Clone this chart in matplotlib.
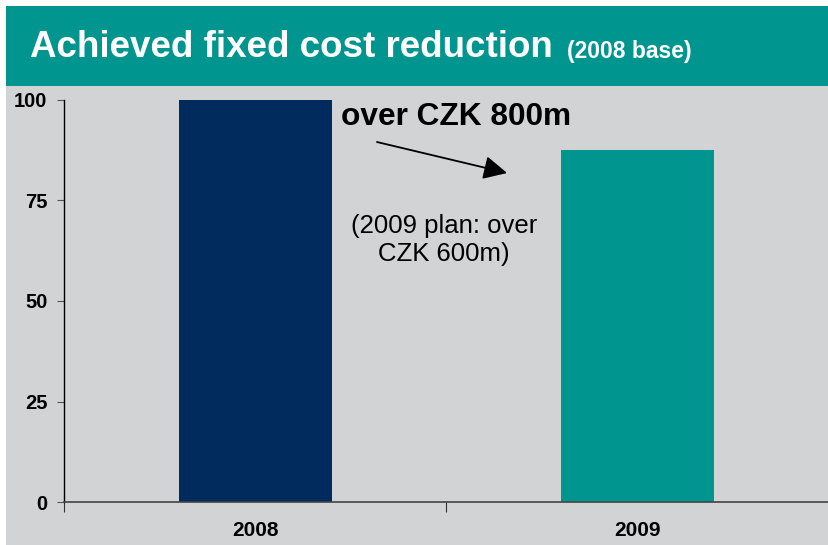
import matplotlib
matplotlib.use("Agg")
import matplotlib.pyplot as plt
from matplotlib.patches import Rectangle

categories = ["2008", "2009"]
values = [100, 87.5]
bar_colors = ["#002B5C", "#00968F"]
yticks = [0, 25, 50, 75, 100]

W, H = 829, 545
fig = plt.figure(figsize=(W / 100, H / 100), dpi=100, facecolor="white")
plt.rcParams["font.family"] = ["Liberation Sans", "DejaVu Sans"]

# background panels
fig.patches.append(Rectangle((6 / W, 0), 1, 1 - 6 / H, transform=fig.transFigure,
                             facecolor="#D1D3D4", edgecolor="none", zorder=-10))
fig.patches.append(Rectangle((6 / W, 1 - 86 / H), 1, 80 / H, transform=fig.transFigure,
                             facecolor="#00968F", edgecolor="none", zorder=-9))
fig.text(30 / W, 1 - 47 / H, "Achieved fixed cost reduction", color="white",
         fontsize=26.5, fontweight="bold", va="center", ha="left")
fig.text(567 / W, 1 - 51 / H, "(2008 base)", color="white",
         fontsize=16.5, fontweight="bold", va="center", ha="left")

ax = fig.add_axes([64 / W, 43 / H, (W - 64) / W, 402 / H])
ax.set_facecolor("#D1D3D4")
x = list(range(len(categories)))
ax.bar(x, values, width=0.4, color=bar_colors, zorder=2)
ax.set_ylim(0, 100)
ax.set_xlim(-0.5, 0.5 + (829 - 449) / 385)
ax.set_yticks(yticks)
ax.set_yticklabels([str(v) for v in yticks], fontweight="bold", fontsize=14.5)
ax.set_xticks([-0.5, 0.5, 1.5])
ax.set_xticklabels([])
ax.set_xticks(x, minor=True)
ax.set_xticklabels(categories, minor=True, fontweight="bold", fontsize=15)
ax.tick_params(axis="x", which="minor", length=0, pad=14)
ax.tick_params(axis="x", which="major", length=7, direction="out", color="#333333")
ax.tick_params(axis="y", length=5, direction="out", pad=7, color="#555555")
for s in ["top", "right"]:
    ax.spines[s].set_visible(False)
ax.spines["left"].set_linewidth(1.0)
ax.spines["bottom"].set_color("#444444")
ax.spines["bottom"].set_linewidth(1.2)

ax.text((343 - 256.5) / 385, (502 - 117) / 4.02, "over CZK 800m", fontsize=22.8,
        fontweight="bold", ha="left", va="center")
ax.annotate("", xy=((510 - 256.5) / 385, (502 - 173) / 4.02),
            xytext=((379 - 256.5) / 385, (502 - 142) / 4.02),
            arrowprops=dict(arrowstyle="-|>,head_length=0.8,head_width=0.4",
                            color="black", lw=1.3, mutation_scale=18, shrinkA=0, shrinkB=0))
ax.text((446.5 - 256.5) / 385, (502 - 240) / 4.02, "(2009 plan: over\nCZK 600m)",
        fontsize=18.5, ha="center", va="center", linespacing=1.2)

fig.savefig("out.png", dpi=100)
